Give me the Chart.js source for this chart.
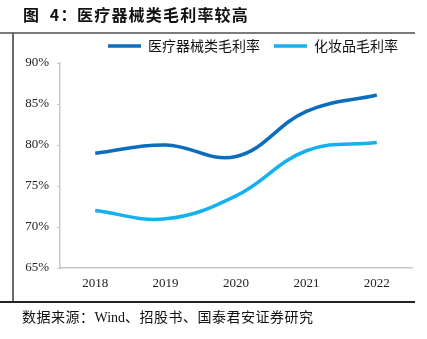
<!DOCTYPE html>
<html>
<head>
<meta charset="utf-8">
<script src="https://cdn.jsdelivr.net/npm/chart.js@4/dist/chart.umd.min.js"></script>
<style>
  body { margin: 0; background: #fff; }
  #wrap { position: relative; width: 427px; height: 339px; overflow: hidden; }
  #grafica { position: absolute; left: 0; top: 0; }
  .titulo {
    position: absolute; top: 2px;
    font: bold 16px "Noto Sans CJK SC", sans-serif; letter-spacing: 1.2px;
    color: #111; white-space: pre;
  }
  .fuente {
    position: absolute; left: 22px; top: 306px;
    font: 14px "Noto Sans CJK SC", sans-serif; letter-spacing: 0.5px;
    color: #111; white-space: pre;
  }
  .fuente .lat { font-family: "Liberation Serif", serif; letter-spacing: 0; }
  .linea { position: absolute; }
</style>
</head>
<body>
<div id="wrap">
  <canvas id="grafica" width="427" height="339"></canvas>
  <div class="titulo" style="left:23px">图  4：</div>
  <div class="titulo" style="left:77px">医疗器械类毛利率较高</div>
  <div class="linea" style="left:0;top:32px;width:415px;height:2px;background:#7a7a7a"></div>
  <div class="linea" style="left:12px;top:32px;width:2px;height:271px;background:#6a6a6a"></div>
  <div class="linea" style="left:0;top:301px;width:415px;height:2px;background:#222"></div>
  <div class="fuente">数据来源：<span class="lat">Wind</span>、招股书、国泰君安证券研究</div>
</div>
<script>
const anios = ["2018", "2019", "2020", "2021", "2022"];
const medicos = [79.0, 80.0, 78.6, 84.1, 86.1];
const cosmeticos = [72.0, 71.0, 73.8, 79.3, 80.3];
const nombres = ["医疗器械类毛利率", "化妆品毛利率"];
const colores = ["#0B6DBE", "#15B1EE"];
const yMin = 65, yMax = 90, yPaso = 5;

const fuenteEje = { family: "'Liberation Serif', serif", size: 13 };

let ctx = document.getElementById("grafica").getContext("2d");
let grafica = new Chart(ctx, {
  type: "line",
  data: {
    labels: anios,
    datasets: [
      {
        label: nombres[0],
        data: medicos,
        borderColor: colores[0],
        backgroundColor: colores[0],
        borderWidth: 3.5,
        pointRadius: 0,
        tension: 0.4,
      },
      {
        label: nombres[1],
        data: cosmeticos,
        borderColor: colores[1],
        backgroundColor: colores[1],
        borderWidth: 3.5,
        pointRadius: 0,
        tension: 0.4,
      },
    ],
  },
  options: {
    responsive: false,
    animation: false,
    layout: { padding: { top: 25, right: 15, left: 0, bottom: 0 } },
    plugins: {
      tooltip: { enabled: false },
      legend: {
        position: "top",
        align: "end",
        labels: {
          usePointStyle: true,
          pointStyle: "line",
          pointStyleWidth: 33,
          padding: 14,
          color: "#111",
          font: { family: "'Noto Sans CJK SC', sans-serif", size: 14 },
        },
      },
    },
    scales: {
      x: {
        offset: true,
        grid: { display: false, drawTicks: false },
        border: { display: true, color: "#c8c8c8", width: 1.5 },
        ticks: { color: "#222", font: fuenteEje, padding: 8, maxRotation: 0 },
        afterFit: (s) => { s.height = 71; },
      },
      y: {
        min: yMin,
        max: yMax,
        grid: { display: true, drawOnChartArea: false, tickLength: 3, color: "#c8c8c8" },
        border: { display: true, color: "#c8c8c8", width: 1.5 },
        ticks: {
          stepSize: yPaso,
          color: "#222",
          font: fuenteEje,
          padding: 8,
          callback: (v) => v + "%",
        },
        afterFit: (s) => { s.width = 60; },
      },
    },
  },
});
</script>
</body>
</html>
